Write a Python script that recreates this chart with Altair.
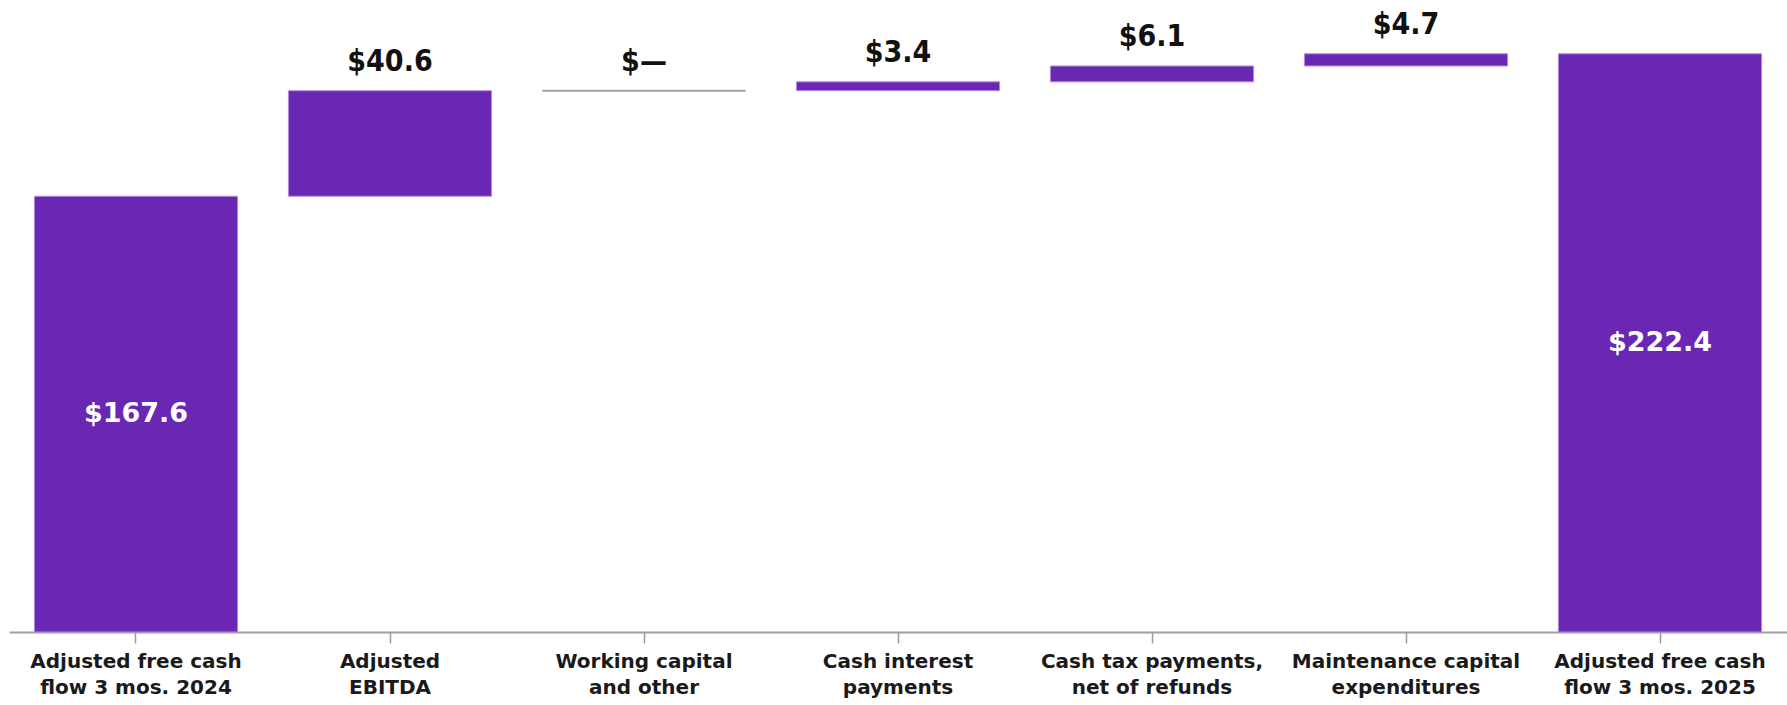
import altair as alt
import pandas as pd

categories = [
    "Adjusted free cash|flow 3 mos. 2024",
    "Adjusted|EBITDA",
    "Working capital|and other",
    "Cash interest|payments",
    "Cash tax payments,|net of refunds",
    "Maintenance capital|expenditures",
    "Adjusted free cash|flow 3 mos. 2025",
]
values = [167.6, 40.6, 0.0, 3.4, 6.1, 4.7, 222.4]
kinds = ["total", "delta", "delta", "delta", "delta", "delta", "total"]
labels = ["$167.6", "$40.6", "$\u2014", "$3.4", "$6.1", "$4.7", "$222.4"]

rows = []
running = 0.0
for c, v, k, lab in zip(categories, values, kinds, labels):
    if k == "total":
        start, end = 0.0, v
        running = v
    else:
        start, end = running, running + v
        running = end
    rows.append({"cat": c, "start": start, "end": end, "kind": k, "label": lab,
                 "mid": (start + end) / 2, "zero": v == 0})
df = pd.DataFrame(rows)

PURPLE = "#6a27b4"

x = alt.X("cat:N", sort=categories, title=None,
          scale=alt.Scale(paddingInner=0.2, paddingOuter=0.1),
          axis=alt.Axis(labelExpr="split(datum.label, '|')", labelAngle=0,
                        labelFont="DejaVu Sans", labelFontWeight="bold",
                        labelFontSize=20, labelColor="#1a1a1a", labelLineHeight=26,
                        labelLimit=0, labelPadding=8, tickSize=11,
                        tickColor="#9a9a9a", tickWidth=1.5,
                        domainColor="#a0a0a0", domainWidth=2, grid=False))
yscale = alt.Scale(domain=[0, 243.08], nice=False, zero=True)

base = alt.Chart(df)

bars = base.transform_filter("!datum.zero").mark_bar(
    color=PURPLE, stroke="#b48ee0", strokeWidth=1
).encode(x=x, y=alt.Y("start:Q", scale=yscale, axis=None), y2="end:Q")

zero_bars = base.transform_filter("datum.zero").mark_bar(
    fill="#a0a0a0", stroke="#a0a0a0", strokeWidth=2
).encode(x=x, y=alt.Y("start:Q", scale=yscale, axis=None), y2="end:Q")

top_text = base.transform_filter("datum.kind == 'delta'").mark_text(
    font="DejaVu Sans Condensed", fontWeight="bold", fontSize=30, color="#111111",
    baseline="alphabetic", dy=-20
).encode(x=x, y=alt.Y("end:Q", scale=yscale, axis=None), text="label:N")

in_text = base.transform_filter("datum.kind == 'total'").mark_text(
    font="DejaVu Sans", fontWeight="bold", fontSize=27, color="white",
    baseline="middle"
).encode(x=x, y=alt.Y("mid:Q", scale=yscale, axis=None), text="label:N")

chart = alt.layer(bars, zero_bars, top_text, in_text).properties(
    width=1778, height=632,
    background="white",
    autosize=alt.AutoSizeParams(type="none"),
    padding={"left": 9, "top": 0, "right": 0, "bottom": 73},
).configure_view(strokeWidth=0, stroke="transparent")

chart.save("out.html", embed_options={"renderer": "svg", "actions": False})
